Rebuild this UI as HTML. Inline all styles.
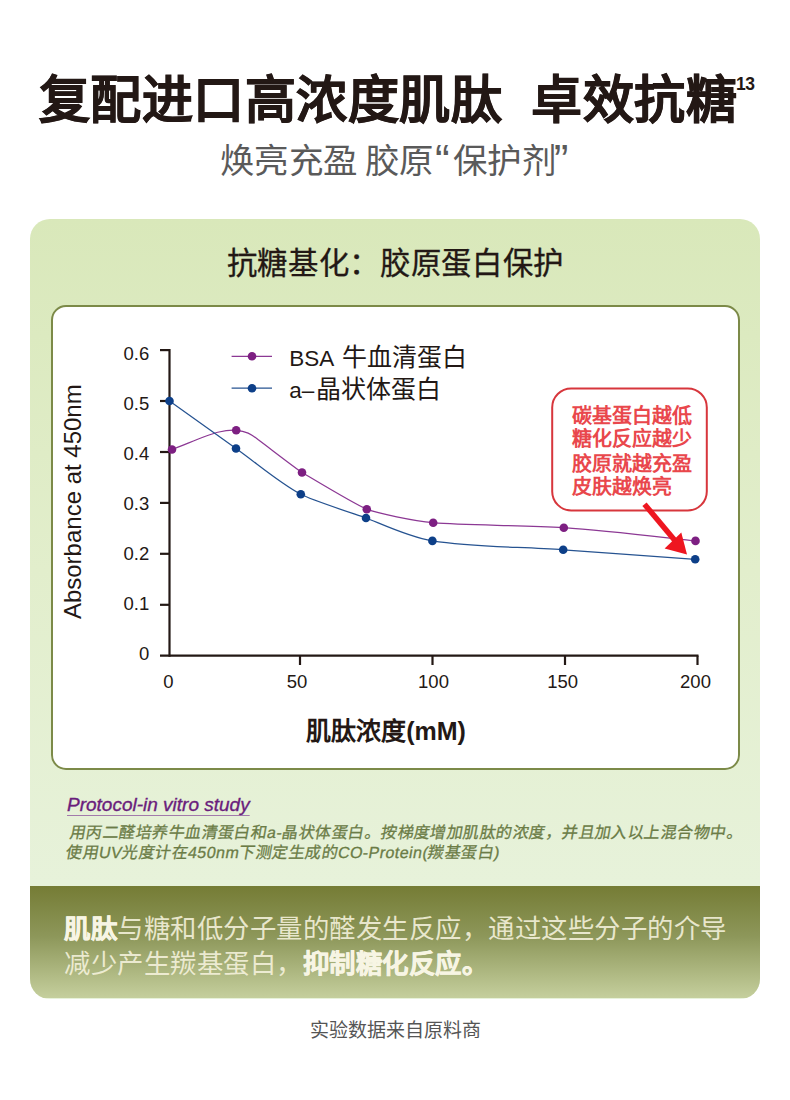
<!DOCTYPE html>
<html lang="zh-CN">
<head>
<meta charset="utf-8">
<style>
html,body{margin:0;padding:0;}
body{width:790px;height:1100px;overflow:hidden;background:#fff;position:relative;font-family:"Liberation Sans",sans-serif;}
.abs{position:absolute;white-space:nowrap;}
#title{left:38.5px;top:60.5px;font-size:51px;letter-spacing:0.5px;line-height:80px;font-weight:700;color:#231815;-webkit-text-stroke:0.6px #231815;}
#sup{left:736px;top:73.5px;font-size:17.5px;line-height:20px;font-weight:700;color:#231815;letter-spacing:-0.6px;}
#sub,#sub2,#sub3{left:220px;top:137.5px;font-size:34.5px;line-height:46px;color:#5a5a5a;letter-spacing:0.4px;}
#sub2{left:365px;}
#sub3{left:435px;}
#sub3 .q:first-child{margin-right:3px;}
#sub3 .q:last-child{margin-left:-2.5px;}
.q{font-size:44px;line-height:46px;vertical-align:top;}
#card{left:30px;top:219px;width:730px;height:780px;border-radius:20px;overflow:hidden;background:linear-gradient(#d9e8ba 0%,#e2eecc 45%,#e7f2da 85%);}
#h2{left:0;width:730px;text-align:center;top:22.3px;font-size:30.4px;letter-spacing:0.65px;text-indent:0.65px;line-height:44px;color:#231815;-webkit-text-stroke:0.3px #231815;}
#box{left:20.8px;top:85.5px;width:685px;height:461px;border:2px solid #7c8a48;border-radius:15px;background:#fff;}
#band{left:0;top:667px;width:730px;height:112px;background:linear-gradient(#757c35 0%,#8d975a 45%,#c5cf9d 100%);}
#foot{left:0;width:790px;text-align:center;top:1016.5px;font-size:19px;line-height:28px;color:#555;}
#proto{left:67px;top:794px;font-size:19px;line-height:22px;font-style:italic;color:#6a1d7c;-webkit-text-stroke:0.35px #6a1d7c;text-decoration:underline;text-decoration-color:#a27aab;text-decoration-thickness:1px;text-underline-offset:4px;}
#desc{left:67.5px;top:823px;font-size:16px;line-height:20.2px;color:#6b7c46;-webkit-text-stroke:0.3px #6b7c46;letter-spacing:0.45px;transform:skewX(-10deg);transform-origin:0 50%;}
#desc i{font-style:normal;}
#bandtxt{left:64px;top:911.7px;font-size:26.4px;line-height:35.5px;color:rgba(246,243,222,0.88);letter-spacing:0.5px;}
#bandtxt b{font-weight:700;color:#f7f5e4;-webkit-text-stroke:0.5px #f7f5e4;}
</style>
</head>
<body>
<div id="title" class="abs">复配进口高浓度肌肽&nbsp;&nbsp;卓效抗糖</div>
<div id="sup" class="abs">13</div>
<div id="sub" class="abs">焕亮充盈</div><div id="sub2" class="abs">胶原</div><div id="sub3" class="abs"><span class="q">“</span>保护剂<span class="q">”</span></div>
<div id="card" class="abs">
  <div id="h2" class="abs">抗糖基化：胶原蛋白保护</div>
  <div id="box" class="abs"></div>
  <div id="band" class="abs"></div>
</div>
<svg class="abs" id="chart" width="790" height="1100" viewBox="0 0 790 1100" style="left:0;top:0">
<g stroke="#231815" stroke-width="2.2" fill="none">
<line x1="169.5" y1="349" x2="169.5" y2="656.8"/>
<line x1="160" y1="655.7" x2="698.5" y2="655.7"/>
<line x1="160" y1="350.1" x2="169.5" y2="350.1"/><line x1="160" y1="401.0" x2="169.5" y2="401.0"/><line x1="160" y1="452.0" x2="169.5" y2="452.0"/><line x1="160" y1="502.9" x2="169.5" y2="502.9"/><line x1="160" y1="553.8" x2="169.5" y2="553.8"/><line x1="160" y1="604.8" x2="169.5" y2="604.8"/><line x1="300.0" y1="655.7" x2="300.0" y2="665"/><line x1="432.5" y1="655.7" x2="432.5" y2="665"/><line x1="565.0" y1="655.7" x2="565.0" y2="665"/><line x1="697.5" y1="655.7" x2="697.5" y2="665"/>
</g>
<g font-family="Liberation Sans, sans-serif" font-size="18.5" fill="#231815"><text x="149.3" y="359.9" text-anchor="end">0.6</text><text x="149.3" y="409.8" text-anchor="end">0.5</text><text x="149.3" y="459.8" text-anchor="end">0.4</text><text x="149.3" y="509.7" text-anchor="end">0.3</text><text x="149.3" y="559.6" text-anchor="end">0.2</text><text x="149.3" y="609.5" text-anchor="end">0.1</text><text x="149.3" y="659.5" text-anchor="end">0</text><text x="168.5" y="688" text-anchor="middle">0</text><text x="297.0" y="688" text-anchor="middle">50</text><text x="433.5" y="688" text-anchor="middle">100</text><text x="562.7" y="688" text-anchor="middle">150</text><text x="695.5" y="688" text-anchor="middle">200</text></g>
<path d="M172,449.5 C188,443.5 206,435 219,432 C226,430.3 231,430 236.2,430.3 C246,431 251,434 258,439.5 C272,450 290,464 302,472.5 C307.4,475.6 355.9,505.0 366.8,509.2 C377.7,513.4 413.5,520.9 433.2,522.7 C466.0,525.8 520.1,524.7 563.8,527.7 C607.5,530.7 673.5,538.7 695.5,540.9" fill="none" stroke="#8c3894" stroke-width="1.25"/>
<path d="M169.5,401.0 C180.6,408.9 214.1,432.9 236.0,448.5 C257.9,464.1 279.1,482.7 300.8,494.3 C311.6,500.1 355.0,514.1 366.0,518.0 C377.0,521.9 407.8,536.9 432.4,540.9 C471.8,547.3 519.4,546.7 563.2,549.8 C607.0,552.9 673.2,557.7 695.2,559.3" fill="none" stroke="#265391" stroke-width="1.25"/>
<g fill="#7d1f82"><circle cx="172" cy="449.5" r="4.3"/><circle cx="236.2" cy="430.3" r="4.3"/><circle cx="302" cy="472.5" r="4.3"/><circle cx="366.8" cy="509.2" r="4.3"/><circle cx="433.2" cy="522.7" r="4.3"/><circle cx="563.8" cy="527.7" r="4.3"/><circle cx="695.5" cy="540.9" r="4.3"/></g>
<g fill="#0d3f88"><circle cx="169.5" cy="401" r="4.3"/><circle cx="236" cy="448.5" r="4.3"/><circle cx="300.8" cy="494.3" r="4.3"/><circle cx="366" cy="518" r="4.3"/><circle cx="432.4" cy="540.9" r="4.3"/><circle cx="563.2" cy="549.8" r="4.3"/><circle cx="695.2" cy="559.3" r="4.3"/></g>
<line x1="231.6" y1="356.3" x2="272" y2="356.3" stroke="#8c3894" stroke-width="1.25"/><circle cx="252" cy="356.3" r="4.3" fill="#7d1f82"/>
<line x1="231.6" y1="388.2" x2="272" y2="388.2" stroke="#265391" stroke-width="1.25"/><circle cx="252" cy="388.2" r="4.3" fill="#0d3f88"/>
<g font-family="Liberation Sans, sans-serif" font-size="22.5" fill="#231815">
<text x="289.3" y="365.8">BSA <tspan dx="3" font-size="25">牛血清蛋白</tspan></text>
<text x="289.3" y="397.5">a–<tspan dx="1.5" font-size="25">晶状体蛋白</tspan></text>
</g>
<text transform="translate(80.5,501.7) rotate(-90)" text-anchor="middle" font-family="Liberation Sans, sans-serif" font-size="24" fill="#231815">Absorbance at 450nm</text>
<text x="386" y="739.5" text-anchor="middle" font-family="Liberation Sans, sans-serif" font-size="25" font-weight="700" fill="#231815">肌肽浓度(mM)</text>
<rect x="552.2" y="388.4" width="154.6" height="122" rx="19" fill="#fff" stroke="#d7363c" stroke-width="2"/>
<g font-family="Liberation Sans, sans-serif" font-size="20" font-weight="700" fill="#e9474c">
<text x="571.7" y="422.7">碳基蛋白越低</text>
<text x="571.7" y="446.2">糖化反应越少</text>
<text x="571.7" y="470.7">胶原就越充盈</text>
<text x="571.7" y="494.2">皮肤越焕亮</text>
</g>
<line x1="644.5" y1="504.2" x2="677" y2="543" stroke="#ee1620" stroke-width="5.5"/>
<polygon points="687,554.4 664.6,548.4 681.3,532.6" fill="#ee1620"/>
</svg>
<div id="proto" class="abs">Protocol-in vitro study</div>
<div id="desc" class="abs">用丙二醛培养牛血清蛋白和a-晶状体蛋白。按梯度增加肌肽的浓度，并且加入以上混合物中。<br>使用<i>UV</i>光度计在<i>450nm</i>下测定生成的<i>CO-Protein(</i>羰基蛋白<i>)</i></div>
<div id="bandtxt" class="abs"><b>肌肽</b>与糖和低分子量的醛发生反应，通过这些分子的介导<br>减少产生羰基蛋白，<b>抑制糖化反应。</b></div>
<div id="foot" class="abs">实验数据来自原料商</div>
</body>
</html>
